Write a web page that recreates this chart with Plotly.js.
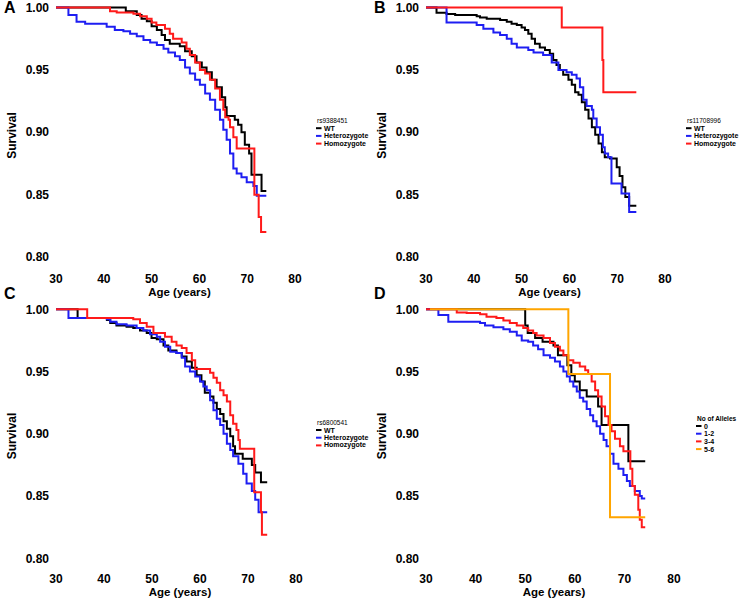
<!DOCTYPE html>
<html><head><meta charset="utf-8">
<script src="https://cdn.plot.ly/plotly-3.0.1.min.js"></script>
<style>html,body{margin:0;padding:0;background:#fff}</style>
</head><body>
<div id="chart" style="width:743px;height:598px"></div>
<script>
// ---------- tick labels ----------
const xTicks = [30, 40, 50, 60, 70, 80];
const yTicks = [0.80, 0.85, 0.90, 0.95, 1.00];
const yTickText = ['0.80', '0.85', '0.90', '0.95', '1.00'];

// ---------- Panel A: rs9388451 ----------
const A_WT_age  = [30, 44.6, 46.9, 47.9, 49.0, 50.0, 51.1, 52.1, 52.8, 53.8, 55.9, 57.0, 58.4, 59.4, 60.5, 61.5, 62.6, 63.6, 64.7, 65.4, 65.7, 67.4, 68.1, 68.8, 69.5, 70.4, 70.9, 73.0, 74.0];
const A_WT_surv = [1.000, 0.997, 0.994, 0.991, 0.989, 0.985, 0.982, 0.978, 0.974, 0.971, 0.969, 0.965, 0.961, 0.956, 0.952, 0.948, 0.942, 0.936, 0.928, 0.920, 0.913, 0.910, 0.906, 0.900, 0.890, 0.883, 0.866, 0.853, 0.853];
const A_HET_age  = [30, 32.6, 34.3, 36.1, 40.6, 42.3, 44.1, 45.5, 46.9, 48.3, 49.7, 51.1, 52.5, 53.5, 54.9, 55.9, 57.0, 58.0, 59.1, 60.1, 61.2, 62.2, 63.3, 64.3, 65.0, 65.7, 66.4, 67.1, 67.8, 68.8, 69.9, 71.3, 72.0, 74.0];
const A_HET_surv = [1.000, 0.994, 0.9885, 0.987, 0.9845, 0.982, 0.981, 0.979, 0.977, 0.974, 0.972, 0.970, 0.967, 0.964, 0.961, 0.958, 0.952, 0.947, 0.942, 0.938, 0.931, 0.926, 0.918, 0.910, 0.902, 0.894, 0.883, 0.871, 0.867, 0.864, 0.860, 0.857, 0.849, 0.849];
const A_HOM_age  = [30, 41.3, 42.7, 46.2, 47.6, 49.0, 50.0, 51.0, 52.8, 53.8, 54.5, 56.3, 57.3, 58.0, 59.1, 60.1, 61.2, 62.2, 63.3, 64.3, 65.0, 65.4, 66.1, 66.4, 67.1, 67.8, 71.5, 72.4, 72.9, 74.0];
const A_HOM_surv = [1.000, 0.997, 0.996, 0.995, 0.993, 0.991, 0.988, 0.986, 0.983, 0.979, 0.975, 0.972, 0.967, 0.962, 0.956, 0.950, 0.947, 0.942, 0.935, 0.926, 0.918, 0.912, 0.910, 0.904, 0.896, 0.887, 0.850, 0.832, 0.820, 0.820];

// ---------- Panel B: rs11708996 ----------
const B_WT_age  = [30, 32.2, 34.3, 36.1, 40.6, 41.3, 42.7, 45.5, 46.9, 47.9, 49.0, 50.0, 50.7, 51.4, 52.1, 52.8, 53.8, 54.9, 55.9, 56.6, 57.3, 58.0, 58.7, 59.8, 60.5, 61.2, 61.9, 62.6, 63.3, 64.0, 64.7, 65.4, 66.1, 66.8, 67.4, 68.5, 69.9, 70.5, 71.1, 71.7, 72.5, 74.0];
const B_WT_surv = [1.000, 0.9957, 0.9947, 0.994, 0.993, 0.992, 0.991, 0.990, 0.9885, 0.987, 0.986, 0.984, 0.982, 0.979, 0.975, 0.971, 0.968, 0.966, 0.963, 0.958, 0.954, 0.950, 0.946, 0.942, 0.938, 0.932, 0.930, 0.924, 0.918, 0.911, 0.904, 0.898, 0.891, 0.884, 0.880, 0.879, 0.872, 0.865, 0.856, 0.848, 0.841, 0.841];
const B_HET_age  = [30, 34.3, 40.6, 42.0, 44.1, 45.5, 46.9, 47.9, 49.0, 51.4, 52.5, 54.5, 56.3, 57.7, 59.4, 60.5, 61.5, 62.2, 62.9, 63.6, 64.7, 65.0, 65.7, 66.4, 67.0, 67.4, 68.1, 68.8, 70.9, 72.5, 74.0];
const B_HET_surv = [1.000, 0.988, 0.986, 0.983, 0.980, 0.978, 0.975, 0.971, 0.968, 0.966, 0.964, 0.962, 0.956, 0.950, 0.948, 0.946, 0.943, 0.936, 0.926, 0.921, 0.918, 0.911, 0.904, 0.898, 0.888, 0.883, 0.880, 0.859, 0.851, 0.836, 0.836];
const B_HOM_age  = [30, 58.4, 66.9, 67.1, 74.0];
const B_HOM_surv = [1.000, 0.984, 0.958, 0.932, 0.932];

// ---------- Panel C: rs6800541 ----------
const C_WT_age  = [30, 34.5, 40.6, 41.3, 42.6, 44.7, 46.1, 47.5, 48.9, 49.9, 51.0, 52.4, 53.4, 55.1, 56.2, 57.2, 58.3, 59.3, 60.3, 61.0, 62.1, 62.8, 63.5, 64.2, 64.9, 65.6, 66.3, 66.9, 67.3, 68.9, 70.8, 71.5, 72.7, 74.0];
const C_WT_surv = [1.000, 0.993, 0.9915, 0.989, 0.987, 0.986, 0.985, 0.983, 0.981, 0.977, 0.976, 0.971, 0.967, 0.965, 0.962, 0.958, 0.953, 0.947, 0.942, 0.933, 0.930, 0.925, 0.920, 0.916, 0.910, 0.904, 0.898, 0.890, 0.884, 0.880, 0.875, 0.869, 0.861, 0.861];
const C_HET_age  = [30, 32.6, 40.6, 41.3, 42.6, 44.7, 46.8, 48.2, 49.6, 51.0, 51.7, 52.7, 53.8, 55.1, 56.2, 56.9, 57.9, 59.0, 60.0, 60.7, 61.4, 62.1, 62.8, 63.5, 64.2, 64.9, 65.6, 66.3, 66.9, 68.0, 69.0, 69.7, 70.8, 71.5, 72.2, 74.0];
const C_HET_surv = [1.000, 0.993, 0.992, 0.990, 0.988, 0.987, 0.985, 0.983, 0.980, 0.978, 0.974, 0.970, 0.966, 0.965, 0.961, 0.954, 0.950, 0.946, 0.942, 0.938, 0.935, 0.927, 0.919, 0.912, 0.907, 0.900, 0.892, 0.887, 0.882, 0.876, 0.868, 0.860, 0.854, 0.847, 0.837, 0.837];
const C_HOM_age  = [30, 36.5, 46.1, 47.5, 48.9, 50.3, 52.7, 54.1, 55.1, 56.2, 57.2, 58.3, 59.0, 62.1, 62.8, 63.5, 64.2, 64.9, 65.6, 66.3, 66.9, 67.6, 68.0, 68.3, 71.3, 72.7, 72.9, 74.0];
const C_HOM_surv = [1.000, 0.993, 0.992, 0.989, 0.986, 0.981, 0.978, 0.974, 0.971, 0.969, 0.965, 0.959, 0.952, 0.949, 0.945, 0.941, 0.935, 0.931, 0.926, 0.915, 0.908, 0.903, 0.895, 0.888, 0.853, 0.837, 0.819, 0.819];

// ---------- Panel D: No of Alleles ----------
const D_0_age  = [30, 50.0, 50.5, 52.0, 53.5, 55.7, 56.6, 58.5, 59.3, 60.0, 61.0, 62.4, 64.7, 65.4, 70.8, 74.2];
const D_0_surv = [1.000, 0.987, 0.981, 0.977, 0.974, 0.971, 0.963, 0.955, 0.947, 0.942, 0.935, 0.930, 0.922, 0.907, 0.878, 0.878];
const D_12_age  = [30, 32.5, 34.5, 40.9, 41.9, 43.6, 45.6, 46.9, 48.3, 49.3, 50.6, 51.6, 52.6, 53.7, 55.0, 56.0, 57.0, 57.7, 58.4, 59.0, 59.7, 60.4, 61.0, 61.7, 62.4, 63.1, 63.7, 64.4, 65.1, 65.8, 66.4, 67.1, 67.8, 68.8, 69.8, 70.5, 71.1, 72.1, 73.1, 73.5, 74.2];
const D_12_surv = [1.000, 0.9955, 0.990, 0.989, 0.987, 0.9855, 0.984, 0.982, 0.979, 0.975, 0.974, 0.971, 0.968, 0.963, 0.961, 0.958, 0.954, 0.950, 0.946, 0.942, 0.938, 0.934, 0.929, 0.926, 0.920, 0.915, 0.910, 0.906, 0.900, 0.895, 0.890, 0.884, 0.876, 0.872, 0.867, 0.862, 0.858, 0.854, 0.850, 0.848, 0.848];
const D_34_age  = [30, 36.2, 38.2, 40.9, 42.2, 44.2, 45.6, 46.9, 48.3, 49.6, 50.6, 51.6, 52.3, 53.7, 55.0, 56.0, 57.0, 57.7, 58.7, 59.7, 61.0, 62.1, 62.7, 63.4, 64.1, 64.7, 65.4, 66.1, 66.8, 67.4, 68.1, 69.1, 69.8, 71.2, 71.6, 72.1, 72.8, 73.1, 73.5, 74.2];
const D_34_surv = [1.000, 0.9975, 0.997, 0.996, 0.994, 0.993, 0.991, 0.989, 0.987, 0.985, 0.983, 0.981, 0.979, 0.977, 0.973, 0.970, 0.967, 0.963, 0.959, 0.957, 0.954, 0.951, 0.948, 0.942, 0.935, 0.930, 0.922, 0.914, 0.907, 0.902, 0.896, 0.890, 0.886, 0.872, 0.858, 0.851, 0.839, 0.831, 0.825, 0.825];
const D_56_age  = [30.8, 58.7, 67.1, 74.2];
const D_56_surv = [1.000, 0.948, 0.833, 0.833];

// ---------- legend labels ----------
const genoLabels = ['WT', 'Heterozygote', 'Homozygote'];
const alleleLabels = ['0', '1-2', '3-4', '5-6'];
const legendTitles = ['rs9388451', 'rs11708996', 'rs6800541', 'No of Alleles'];
const panelLetters = ['A', 'B', 'C', 'D'];

const BLACK = '#000000', BLUE = '#1e1ef2', RED = '#ff1a1a', ORANGE = '#ffa500';

// ---------- layout geometry (pixels) ----------
const W = 743, H = 598;
const geom = [
  {x30: 56,  x80: 295, y100: 7.5,   y080: 257,   left: 52,  right: 307, top: 1,   bottom: 270},
  {x30: 426, x80: 665, y100: 7.5,   y080: 257,   left: 422, right: 677, top: 1,   bottom: 270},
  {x30: 56,  x80: 296, y100: 309.3, y080: 558.3, left: 52,  right: 308, top: 302, bottom: 570},
  {x30: 426, x80: 674, y100: 309.3, y080: 558.3, left: 422, right: 686, top: 302, bottom: 570}
];
const legendPos = [
  {kx: 316, ty: 120.5, dy: 7.7, n: 3},
  {kx: 686, ty: 120.5, dy: 7.7, n: 3},
  {kx: 316, ty: 422.3, dy: 7.7, n: 3},
  {kx: 696, ty: 418.3, dy: 7.7, n: 4}
];

const FONT = 'Liberation Sans, Arial, sans-serif';
const layout = {
  width: W, height: H,
  margin: {l: 0, r: 0, t: 0, b: 0},
  paper_bgcolor: '#ffffff', plot_bgcolor: '#ffffff',
  showlegend: false,
  font: {family: FONT, color: '#000'},
  annotations: [], shapes: []
};

geom.forEach((g, i) => {
  const sx = (g.x80 - g.x30) / 50, sy = (g.y080 - g.y100) / 0.2;
  const xr = [30 + (g.left - g.x30) / sx, 30 + (g.right - g.x30) / sx];
  const yr = [1 - (g.bottom - g.y100) / sy, 1 - (g.top - g.y100) / sy];
  const sfx = i === 0 ? '' : String(i + 1);
  layout['xaxis' + sfx] = {
    domain: [g.left / W, g.right / W], range: xr, anchor: 'y' + sfx,
    showgrid: false, zeroline: false, showline: false, ticks: '',
    tickmode: 'array', tickvals: xTicks, ticktext: xTicks.map(String),
    tickfont: {family: FONT, size: 12, color: '#000', weight: 'bold'},
    ticklabelstandoff: 0,
    title: {text: '<b>Age (years)</b>', font: {family: FONT, size: 11.5, color: '#000'}, standoff: 0},
    fixedrange: true
  };
  layout['yaxis' + sfx] = {
    domain: [1 - g.bottom / H, 1 - g.top / H], range: yr, anchor: 'x' + sfx,
    showgrid: false, zeroline: false, showline: false, ticks: '',
    tickmode: 'array', tickvals: yTicks, ticktext: yTickText,
    tickfont: {family: FONT, size: 12, color: '#000', weight: 'bold'},
    ticklabelstandoff: 2,
    title: {text: '<b>Survival</b>', font: {family: FONT, size: 12, color: '#000'}, standoff: 6},
    fixedrange: true
  };
  // panel letter
  layout.annotations.push({
    xref: 'paper', yref: 'paper', x: 2 / W + (i % 2) * 370 / W, y: 1 - (i < 2 ? 8 : 293) / H,
    xanchor: 'left', yanchor: 'middle', showarrow: false,
    text: '<b>' + panelLetters[i] + '</b>', font: {family: FONT, size: 16, color: '#000'}
  });
  // legend
  const lp = legendPos[i];
  const labels = i === 3 ? alleleLabels : genoLabels;
  const colors = i === 3 ? [BLACK, BLUE, RED, ORANGE] : [BLACK, BLUE, RED];
  layout.annotations.push({
    xref: 'paper', yref: 'paper', x: (lp.kx - 1) / W, y: 1 - lp.ty / H,
    xanchor: 'left', yanchor: 'middle', showarrow: false,
    text: i === 3 ? '<b>' + legendTitles[i] + '</b>' : legendTitles[i],
    font: {family: FONT, size: 6.5, color: '#000'}
  });
  labels.forEach((lab, k) => {
    const yy = lp.ty + lp.dy * (k + 1);
    layout.shapes.push({
      type: 'line', xref: 'paper', yref: 'paper',
      x0: lp.kx / W, x1: (lp.kx + 5.5) / W, y0: 1 - yy / H, y1: 1 - yy / H,
      line: {color: colors[k], width: 2}
    });
    layout.annotations.push({
      xref: 'paper', yref: 'paper', x: (lp.kx + 6) / W, y: 1 - yy / H,
      xanchor: 'left', yanchor: 'middle', showarrow: false,
      text: '<b>' + lab + '</b>', font: {family: FONT, size: 7, color: '#000'}
    });
  });
});

function curve(x, y, color, name, ax) {
  return {
    type: 'scatter', mode: 'lines', x: x, y: y, name: name,
    line: {shape: 'hv', color: color, width: 2},
    xaxis: 'x' + ax, yaxis: 'y' + ax, hoverinfo: 'skip'
  };
}

const data = [
  curve(A_WT_age, A_WT_surv, BLACK, 'WT', ''),
  curve(A_HET_age, A_HET_surv, BLUE, 'Heterozygote', ''),
  curve(A_HOM_age, A_HOM_surv, RED, 'Homozygote', ''),
  curve(B_WT_age, B_WT_surv, BLACK, 'WT', '2'),
  curve(B_HET_age, B_HET_surv, BLUE, 'Heterozygote', '2'),
  curve(B_HOM_age, B_HOM_surv, RED, 'Homozygote', '2'),
  curve(C_WT_age, C_WT_surv, BLACK, 'WT', '3'),
  curve(C_HET_age, C_HET_surv, BLUE, 'Heterozygote', '3'),
  curve(C_HOM_age, C_HOM_surv, RED, 'Homozygote', '3'),
  curve(D_0_age, D_0_surv, BLACK, '0', '4'),
  curve(D_12_age, D_12_surv, BLUE, '1-2', '4'),
  curve(D_34_age, D_34_surv, RED, '3-4', '4'),
  curve(D_56_age, D_56_surv, ORANGE, '5-6', '4')
];

Plotly.newPlot('chart', data, layout, {displayModeBar: false, staticPlot: true});
</script>
</body></html>
